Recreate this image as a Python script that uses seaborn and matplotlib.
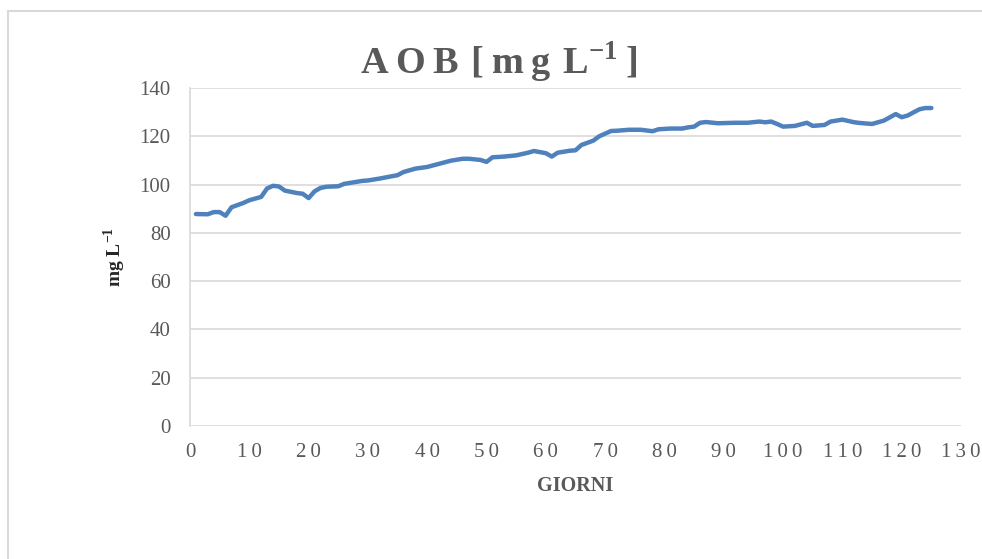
import pandas as pd
import matplotlib
matplotlib.use("Agg")
import matplotlib.pyplot as plt
import seaborn as sns

# Dati (giorno, AOB in mg/L)
giorni = [1, 3, 4, 5, 6, 7, 9, 10, 12, 13, 14, 15, 16, 18, 19, 20, 21, 22, 23,
          25, 26, 29, 30, 32, 35, 36, 38, 40, 42, 44, 46, 47, 49, 50, 51, 53,
          55, 57, 58, 60, 61, 62, 64, 65, 66, 68, 69, 71, 72, 74, 76, 78, 79,
          81, 83, 84, 85, 86, 87, 89, 92, 94, 96, 97, 98, 99, 100, 102, 104,
          105, 107, 108, 110, 112, 113, 115, 117, 119, 120, 121, 123, 124, 125]
aob = [87.8, 87.7, 88.6, 88.6, 87.1, 90.6, 92.4, 93.5, 94.9, 98.4, 99.5, 99.2,
       97.5, 96.5, 96.2, 94.4, 97.2, 98.6, 99.1, 99.3, 100.3, 101.5, 101.7,
       102.5, 103.9, 105.2, 106.6, 107.3, 108.6, 109.9, 110.7, 110.7, 110.2,
       109.4, 111.3, 111.6, 112.1, 113.2, 113.9, 113.0, 111.6, 113.2, 114.0,
       114.2, 116.4, 118.2, 120.0, 122.2, 122.3, 122.7, 122.7, 122.1, 122.9,
       123.2, 123.2, 123.7, 124.0, 125.6, 125.9, 125.4, 125.6, 125.6, 126.1,
       125.8, 126.1, 125.1, 124.0, 124.3, 125.6, 124.3, 124.7, 126.1, 126.9,
       125.8, 125.5, 125.1, 126.5, 129.2, 127.9, 128.6, 131.2, 131.7, 131.7]

x_ticks = [0, 10, 20, 30, 40, 50, 60, 70, 80, 90, 100, 110, 120, 130]
y_ticks = [0, 20, 40, 60, 80, 100, 120, 140]

df = pd.DataFrame({"giorno": giorni, "aob": aob})

sns.set_theme(style="whitegrid")
plt.rcParams["font.family"] = ["Liberation Serif", "DejaVu Serif"]
plt.rcParams["mathtext.fontset"] = "custom"
plt.rcParams["mathtext.rm"] = "Liberation Serif"
plt.rcParams["mathtext.bf"] = "Liberation Serif:bold"

grigio = "#595959"
griglia = "#D9D9D9"

fig = plt.figure(figsize=(9.82, 5.59), dpi=100)
ax = fig.add_axes([190 / 982, 1 - 426 / 559, 771 / 982, 338 / 559])

sns.lineplot(data=df, x="giorno", y="aob", ax=ax, color="#4F81BD",
             linewidth=3.2, solid_capstyle="round", solid_joinstyle="round")

ax.set_xlim(0, 130)
ax.set_ylim(0, 140)
ax.set_xticks(x_ticks)
ax.set_xticklabels(["\u2009".join(str(v)) for v in x_ticks])
ax.set_yticks(y_ticks)
ax.set_yticklabels([str(v) for v in y_ticks])
ax.tick_params(axis="x", length=0, pad=12, labelsize=15, labelcolor=grigio)
ax.tick_params(axis="y", length=0, pad=14, labelsize=15, labelcolor=grigio)

ax.grid(False)
ax.yaxis.grid(True, color=griglia, linewidth=1.2)
for lato in ["top", "right", "bottom"]:
    ax.spines[lato].set_visible(False)
ax.spines["left"].set_color(griglia)
ax.spines["left"].set_linewidth(1.2)
ax.set_facecolor("white")

ax.set_xlabel("GIORNI", fontsize=14.5, fontweight="bold", color=grigio, labelpad=10)
ax.set_ylabel(r"mg L$^{\mathbf{-1}}$", fontsize=14, fontweight="bold",
              color="#262626", labelpad=8)

fig.text(0.508, 0.889, "A\u2009O\u2009B\u200a [\u2009m\u2009g\u200a L$^{\\mathbf{-1}}$\u2009]",
         ha="center", va="center", fontsize=27.5, fontweight="bold", color=grigio)

# cornice esterna del grafico
fig.add_artist(plt.Line2D([8 / 982, 1], [1 - 11 / 559, 1 - 11 / 559],
                          color=griglia, linewidth=1.5, transform=fig.transFigure))
fig.add_artist(plt.Line2D([8 / 982, 8 / 982], [0, 1 - 11 / 559],
                          color=griglia, linewidth=1.5, transform=fig.transFigure))

fig.savefig("out.png", dpi=100, facecolor="white")
